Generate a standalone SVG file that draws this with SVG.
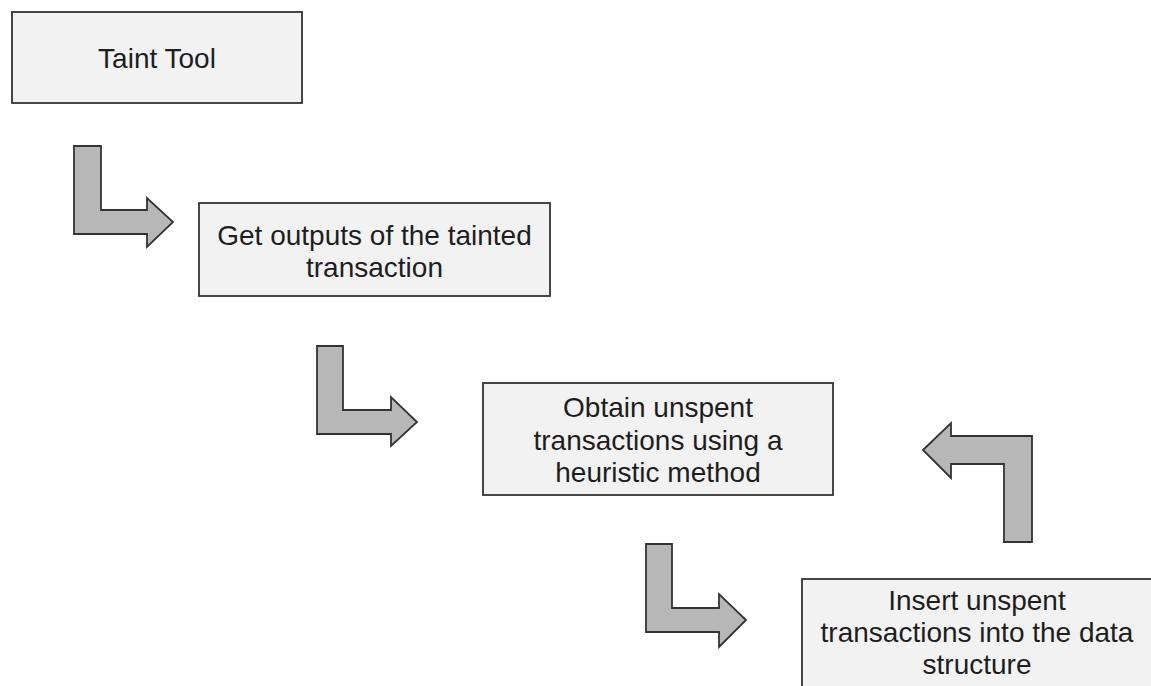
<svg xmlns="http://www.w3.org/2000/svg" width="1151" height="686" viewBox="0 0 1151 686">
  <style>
    .box { fill: #f2f2f2; stroke: #333333; stroke-width: 1.8; }
    .arrow { fill: #b7b7b7; stroke: #333333; stroke-width: 1.8; stroke-linejoin: miter; }
    .label { font-family: "Liberation Sans", Arial, sans-serif; font-size: 28px; fill: #1e1e1e; text-anchor: middle; }
  </style>
  <rect width="1151" height="686" fill="#ffffff"/>

  <g id="node-taint-tool">
    <rect class="box" x="12" y="12" width="290" height="91"/>
    <text class="label" x="157" y="68">Taint Tool</text>
  </g>

  <g id="node-get-outputs">
    <rect class="box" x="199" y="203" width="351" height="93"/>
    <text class="label" x="374.5" y="245">Get outputs of the tainted</text>
    <text class="label" x="374.5" y="277">transaction</text>
  </g>

  <g id="node-obtain-unspent">
    <rect class="box" x="483" y="383" width="350" height="112"/>
    <text class="label" x="658" y="417">Obtain unspent</text>
    <text class="label" x="658" y="449.5">transactions using a</text>
    <text class="label" x="658" y="482">heuristic method</text>
  </g>

  <g id="node-insert-unspent">
    <rect class="box" x="802" y="579" width="354" height="120"/>
    <text class="label" x="977" y="610">Insert unspent</text>
    <text class="label" x="977" y="642">transactions into the data</text>
    <text class="label" x="977" y="674">structure</text>
  </g>

  <g id="connectors">
    <polygon class="arrow" points="74,146 101,146 101,210 147,210 147,198 173,222 147,247 147,234 74,234"/>
    <polygon class="arrow" points="317,346 343,346 343,410 391,410 391,397 417,422 391,446 391,434 317,434"/>
    <polygon class="arrow" points="646,544 672,544 672,608 719,608 719,594 746,620 719,647 719,632 646,632"/>
    <polygon class="arrow" points="923,450 951,423 951,436 1032,436 1032,542 1004,542 1004,464 951,464 951,478"/>
  </g>
</svg>
